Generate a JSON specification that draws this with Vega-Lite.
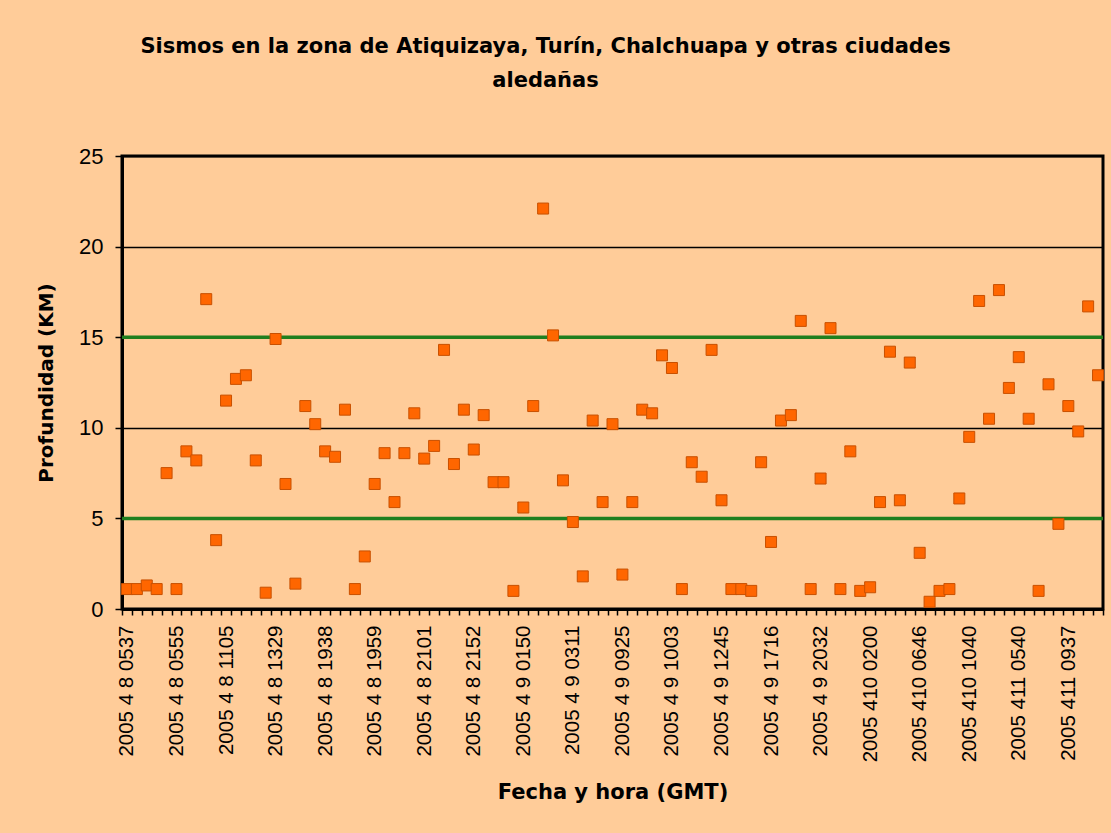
{
  "$schema": "https://vega.github.io/schema/vega-lite/v6.json",
  "width": 981,
  "height": 453,
  "autosize": {"type": "none"},
  "padding": {"left": 122, "top": 156, "right": 8, "bottom": 224},
  "background": "#FFCC99",
  "title": {
    "text": ["Sismos en la zona de Atiquizaya, Turín, Chalchuapa y otras ciudades", "aledañas"],
    "font": "DejaVu Sans",
    "fontWeight": "bold",
    "fontSize": 21,
    "color": "#000000",
    "anchor": "middle",
    "dx": -67,
    "offset": 54,
    "lineHeight": 34
  },
  "config": {
    "view": {"stroke": "#000000", "strokeWidth": 3, "fill": "#FFCC99"}
  },
  "layer": [
    {
      "data": {"values": [{"km": 5}, {"km": 15}]},
      "mark": {"type": "rule", "color": "#1F7F1F", "strokeWidth": 3.5},
      "encoding": {
        "y": {"field": "km", "type": "quantitative", "scale": {"domain": [0, 25], "nice": false}}
      }
    },
    {
      "data": {
        "values": [
          {"fecha": "2005 4 8 0537", "km": 1.1},
          {"fecha": "2005 4 8 0541", "km": 1.1},
          {"fecha": "2005 4 8 0544", "km": 1.3},
          {"fecha": "2005 4 8 0548", "km": 1.1},
          {"fecha": "2005 4 8 0551", "km": 7.5},
          {"fecha": "2005 4 8 0555", "km": 1.1},
          {"fecha": "2005 4 8 0712", "km": 8.7},
          {"fecha": "2005 4 8 0830", "km": 8.2},
          {"fecha": "2005 4 8 0915", "km": 17.1},
          {"fecha": "2005 4 8 1002", "km": 3.8},
          {"fecha": "2005 4 8 1105", "km": 11.5},
          {"fecha": "2005 4 8 1148", "km": 12.7},
          {"fecha": "2005 4 8 1214", "km": 12.9},
          {"fecha": "2005 4 8 1240", "km": 8.2},
          {"fecha": "2005 4 8 1302", "km": 0.9},
          {"fecha": "2005 4 8 1329", "km": 14.9},
          {"fecha": "2005 4 8 1445", "km": 6.9},
          {"fecha": "2005 4 8 1603", "km": 1.4},
          {"fecha": "2005 4 8 1722", "km": 11.2},
          {"fecha": "2005 4 8 1850", "km": 10.2},
          {"fecha": "2005 4 8 1938", "km": 8.7},
          {"fecha": "2005 4 8 1941", "km": 8.4},
          {"fecha": "2005 4 8 1945", "km": 11.0},
          {"fecha": "2005 4 8 1950", "km": 1.1},
          {"fecha": "2005 4 8 1955", "km": 2.9},
          {"fecha": "2005 4 8 1959", "km": 6.9},
          {"fecha": "2005 4 8 2014", "km": 8.6},
          {"fecha": "2005 4 8 2026", "km": 5.9},
          {"fecha": "2005 4 8 2039", "km": 8.6},
          {"fecha": "2005 4 8 2050", "km": 10.8},
          {"fecha": "2005 4 8 2101", "km": 8.3},
          {"fecha": "2005 4 8 2112", "km": 9.0},
          {"fecha": "2005 4 8 2124", "km": 14.3},
          {"fecha": "2005 4 8 2133", "km": 8.0},
          {"fecha": "2005 4 8 2141", "km": 11.0},
          {"fecha": "2005 4 8 2152", "km": 8.8},
          {"fecha": "2005 4 8 2218", "km": 10.7},
          {"fecha": "2005 4 8 2245", "km": 7.0},
          {"fecha": "2005 4 8 2317", "km": 7.0},
          {"fecha": "2005 4 8 2348", "km": 1.0},
          {"fecha": "2005 4 9 0150", "km": 5.6},
          {"fecha": "2005 4 9 0204", "km": 11.2},
          {"fecha": "2005 4 9 0218", "km": 22.1},
          {"fecha": "2005 4 9 0233", "km": 15.1},
          {"fecha": "2005 4 9 0251", "km": 7.1},
          {"fecha": "2005 4 9 0311", "km": 4.8},
          {"fecha": "2005 4 9 0432", "km": 1.8},
          {"fecha": "2005 4 9 0605", "km": 10.4},
          {"fecha": "2005 4 9 0723", "km": 5.9},
          {"fecha": "2005 4 9 0841", "km": 10.2},
          {"fecha": "2005 4 9 0925", "km": 1.9},
          {"fecha": "2005 4 9 0934", "km": 5.9},
          {"fecha": "2005 4 9 0942", "km": 11.0},
          {"fecha": "2005 4 9 0950", "km": 10.8},
          {"fecha": "2005 4 9 0957", "km": 14.0},
          {"fecha": "2005 4 9 1003", "km": 13.3},
          {"fecha": "2005 4 9 1035", "km": 1.1},
          {"fecha": "2005 4 9 1112", "km": 8.1},
          {"fecha": "2005 4 9 1146", "km": 7.3},
          {"fecha": "2005 4 9 1218", "km": 14.3},
          {"fecha": "2005 4 9 1245", "km": 6.0},
          {"fecha": "2005 4 9 1337", "km": 1.1},
          {"fecha": "2005 4 9 1442", "km": 1.1},
          {"fecha": "2005 4 9 1540", "km": 1.0},
          {"fecha": "2005 4 9 1633", "km": 8.1},
          {"fecha": "2005 4 9 1716", "km": 3.7},
          {"fecha": "2005 4 9 1801", "km": 10.4},
          {"fecha": "2005 4 9 1849", "km": 10.7},
          {"fecha": "2005 4 9 1928", "km": 15.9},
          {"fecha": "2005 4 9 2005", "km": 1.1},
          {"fecha": "2005 4 9 2032", "km": 7.2},
          {"fecha": "2005 4 9 2125", "km": 15.5},
          {"fecha": "2005 4 9 2219", "km": 1.1},
          {"fecha": "2005 4 9 2314", "km": 8.7},
          {"fecha": "2005 410 0052", "km": 1.0},
          {"fecha": "2005 410 0200", "km": 1.2},
          {"fecha": "2005 410 0258", "km": 5.9},
          {"fecha": "2005 410 0401", "km": 14.2},
          {"fecha": "2005 410 0502", "km": 6.0},
          {"fecha": "2005 410 0555", "km": 13.6},
          {"fecha": "2005 410 0646", "km": 3.1},
          {"fecha": "2005 410 0731", "km": 0.4},
          {"fecha": "2005 410 0824", "km": 1.0},
          {"fecha": "2005 410 0911", "km": 1.1},
          {"fecha": "2005 410 0958", "km": 6.1},
          {"fecha": "2005 410 1040", "km": 9.5},
          {"fecha": "2005 410 1305", "km": 17.0},
          {"fecha": "2005 410 1612", "km": 10.5},
          {"fecha": "2005 410 1920", "km": 17.6},
          {"fecha": "2005 411 0215", "km": 12.2},
          {"fecha": "2005 411 0540", "km": 13.9},
          {"fecha": "2005 411 0618", "km": 10.5},
          {"fecha": "2005 411 0701", "km": 1.0},
          {"fecha": "2005 411 0748", "km": 12.4},
          {"fecha": "2005 411 0842", "km": 4.7},
          {"fecha": "2005 411 0937", "km": 11.2},
          {"fecha": "2005 411 1045", "km": 9.8},
          {"fecha": "2005 411 1152", "km": 16.7},
          {"fecha": "2005 411 1310", "km": 12.9}
        ]
      },
      "mark": {
        "type": "point",
        "shape": "square",
        "filled": true,
        "size": 121,
        "fill": "#FF6600",
        "stroke": "#C85000",
        "strokeWidth": 1,
        "opacity": 1
      },
      "encoding": {
        "x": {
          "field": "fecha",
          "type": "ordinal",
          "sort": null,
          "bandPosition": 0.5,
          "scale": {"type": "band", "paddingInner": 0, "paddingOuter": 0},
          "axis": {
            "title": "Fecha y hora (GMT)",
            "labelAngle": 270,
            "labelExpr": "indexof(['2005 4 8 0537','2005 4 8 0555','2005 4 8 1105','2005 4 8 1329','2005 4 8 1938','2005 4 8 1959','2005 4 8 2101','2005 4 8 2152','2005 4 9 0150','2005 4 9 0311','2005 4 9 0925','2005 4 9 1003','2005 4 9 1245','2005 4 9 1716','2005 4 9 2032','2005 410 0200','2005 410 0646','2005 410 1040','2005 411 0540','2005 411 0937'], datum.value) >= 0 ? datum.value : ''",
            "labelOverlap": false,
            "labelBound": false,
            "labelFont": "Liberation Sans",
            "labelFontSize": 20.5,
            "labelColor": "#000000",
            "labelPadding": 10,
            "tickBand": "extent",
            "tickSize": 6,
            "tickWidth": 1.5,
            "tickColor": "#000000",
            "domainColor": "#000000",
            "domainWidth": 3,
            "grid": false,
            "titleFont": "DejaVu Sans",
            "titleFontWeight": "bold",
            "titleFontSize": 21,
            "titleColor": "#000000",
            "titlePadding": 20
          }
        },
        "y": {
          "field": "km",
          "type": "quantitative",
          "scale": {"domain": [0, 25], "nice": false},
          "axis": {
            "title": "Profundidad (KM)",
            "values": [0, 5, 10, 15, 20, 25],
            "grid": true,
            "gridColor": "#000000",
            "gridWidth": 1.3,
            "domainColor": "#000000",
            "domainWidth": 3,
            "tickColor": "#000000",
            "tickSize": 7,
            "tickWidth": 1.5,
            "labelFont": "Liberation Sans",
            "labelFontSize": 22,
            "labelColor": "#000000",
            "labelPadding": 12,
            "titleFont": "DejaVu Sans",
            "titleFontWeight": "bold",
            "titleFontSize": 20,
            "titleColor": "#000000",
            "titlePadding": 22
          }
        }
      }
    }
  ]
}
